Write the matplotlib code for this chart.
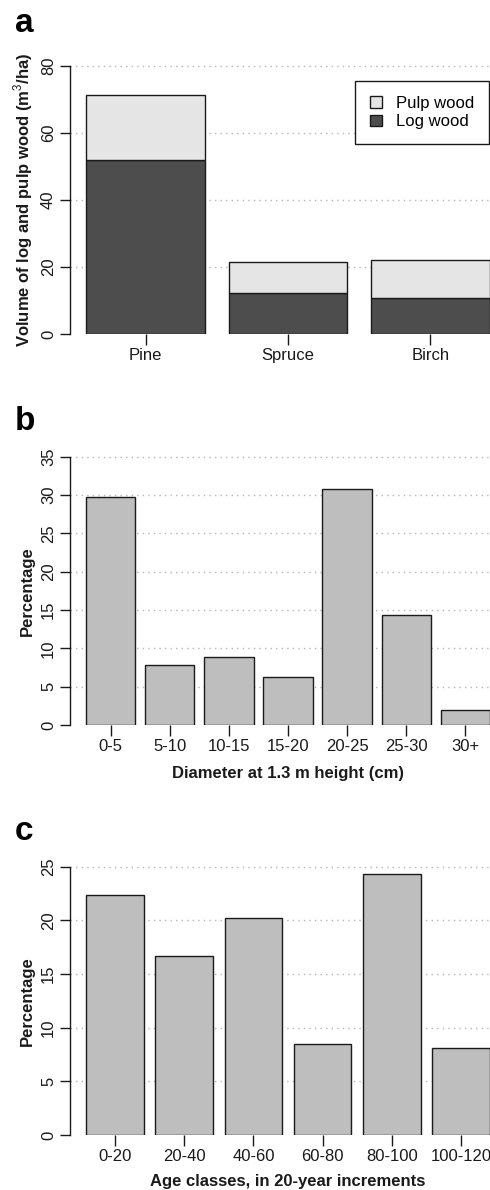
import numpy as np
import matplotlib
matplotlib.use("Agg")
import matplotlib.pyplot as plt
from matplotlib.patches import Patch

plt.rcParams['font.family'] = ['Liberation Sans', 'DejaVu Sans']
plt.rcParams['mathtext.fontset'] = 'custom'
plt.rcParams['mathtext.rm'] = 'Liberation Sans'
plt.rcParams['mathtext.bf'] = 'Liberation Sans:bold'

# panel a: volume by species
species = ['Pine', 'Spruce', 'Birch']
log_wood = [52.0, 12.3, 10.7]
pulp_wood = [19.3, 9.1, 11.4]

# panel b: diameter classes
diam_classes = ['0-5', '5-10', '10-15', '15-20', '20-25', '25-30', '30+']
diam_pct = [29.8, 7.8, 8.9, 6.3, 30.8, 14.3, 1.9]

# panel c: age classes
age_classes = ['0-20', '20-40', '40-60', '60-80', '80-100', '100-120']
age_pct = [22.4, 16.7, 20.2, 8.5, 24.35, 8.1]

W, H = 490, 1190
fig = plt.figure(figsize=(W / 100, H / 100), dpi=100)

ink = '#1a1a1a'
left_px, right_px, ax_h = 70, 506, 279
ylab_x = (35 - left_px) / (right_px - left_px)


def make_axes(bottom_px):
    return fig.add_axes([left_px / W, 1 - bottom_px / H,
                         (right_px - left_px) / W, ax_h / H])


def style(ax, n, labels, ymax, ystep):
    # R barplot layout: width 1, space 0.2, 4% padding
    lo, hi = 0.2, 0.2 + 1.2 * n - 0.2
    pad = 0.04 * (hi - lo)
    ax.set_xlim(lo - pad, hi + pad)
    ax.set_ylim(0, ymax * 1.04)
    yt = np.arange(0, ymax + 0.1, ystep)
    ax.set_yticks(yt)
    ax.set_yticklabels([f'{v:g}' for v in yt])
    for v in yt[1:]:
        ax.axhline(v, color='#b5b5b5', lw=1.0, ls=(0, (1, 3)), zorder=0)
    ax.set_xticks(0.7 + 1.2 * np.arange(n))
    ax.set_xticklabels(labels)
    for s in ['top', 'right', 'bottom']:
        ax.spines[s].set_visible(False)
    ax.spines['left'].set_bounds(0, ymax)
    ax.spines['left'].set_color(ink)
    ax.spines['left'].set_linewidth(1.0)
    ax.tick_params(axis='y', length=7, width=1.0, color=ink, pad=3,
                   labelsize=12, labelrotation=90, labelcolor=ink)
    for t in ax.get_yticklabels():
        t.set_va('center')
    ax.tick_params(axis='x', length=8, width=1.0, color=ink, pad=2,
                   labelsize=12, labelcolor=ink)


# ---- panel a
ax1 = make_axes(334)
x1 = 0.7 + 1.2 * np.arange(len(species))
ax1.bar(x1, log_wood, width=1.0, color='#4d4d4d', edgecolor=ink, lw=1.0, zorder=2)
ax1.bar(x1, pulp_wood, width=1.0, bottom=log_wood, color='#e5e5e5',
        edgecolor=ink, lw=1.0, zorder=2)
style(ax1, len(species), species, 80, 20)
ax1.set_ylabel('Volume of log and pulp wood (m$^3$/ha)', fontsize=12,
               fontweight='bold', color=ink)
ax1.yaxis.set_label_coords(ylab_x, 40 / 83.2)
handles = [Patch(facecolor='#e5e5e5', edgecolor=ink, lw=1.0, label='Pulp wood'),
           Patch(facecolor='#4d4d4d', edgecolor=ink, lw=1.0, label='Log wood')]
leg = ax1.legend(handles=handles, loc='upper right',
                 bbox_to_anchor=(489 / W, 1 - 81 / H),
                 bbox_transform=fig.transFigure, borderaxespad=0,
                 fontsize=12, fancybox=False, framealpha=1,
                 edgecolor=ink, handlelength=0.75, handleheight=0.7,
                 handletextpad=0.8, labelspacing=0.2, borderpad=0.9)
leg.get_frame().set_linewidth(1.0)
fig.text(15 / W, 1 - 32 / H, 'a', fontsize=24, fontweight='bold',
         ha='left', va='baseline')

# ---- panel b
ax2 = make_axes(725)
x2 = 0.7 + 1.2 * np.arange(len(diam_classes))
ax2.bar(x2, diam_pct, width=1.0, color='#bebebe', edgecolor=ink, lw=1.0, zorder=2)
style(ax2, len(diam_classes), diam_classes, 35, 5)
ax2.set_ylabel('Percentage', fontsize=12, fontweight='bold', color=ink)
ax2.yaxis.set_label_coords(ylab_x, 17.5 / 36.4)
ax2.set_xlabel('Diameter at 1.3 m height (cm)', fontsize=12,
               fontweight='bold', color=ink)
ax2.xaxis.set_label_coords(0.5, -41 / ax_h)
fig.text(15 / W, 1 - 430 / H, 'b', fontsize=24, fontweight='bold',
         ha='left', va='baseline')

# ---- panel c
ax3 = make_axes(1135)
x3 = 0.7 + 1.2 * np.arange(len(age_classes))
ax3.bar(x3, age_pct, width=1.0, color='#bebebe', edgecolor=ink, lw=1.0, zorder=2)
style(ax3, len(age_classes), age_classes, 25, 5)
ax3.set_ylabel('Percentage', fontsize=12, fontweight='bold', color=ink)
ax3.yaxis.set_label_coords(ylab_x, 12.5 / 26)
ax3.set_xlabel('Age classes, in 20-year increments', fontsize=12,
               fontweight='bold', color=ink)
ax3.xaxis.set_label_coords(0.5, -39 / ax_h)
fig.text(15 / W, 1 - 840 / H, 'c', fontsize=24, fontweight='bold',
         ha='left', va='baseline')

fig.savefig('out.png', dpi=100)
